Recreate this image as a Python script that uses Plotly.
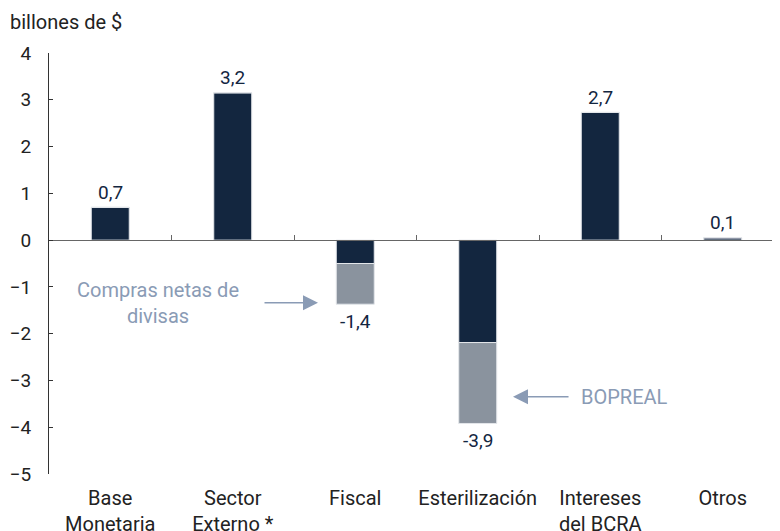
import plotly.graph_objects as go

categories = ["Base<br>Monetaria", "Sector<br>Externo *", "Fiscal", "Esterilización", "Intereses<br>del BCRA", "Otros"]
main_values = [0.70, 3.15, -0.50, -2.19, 2.73, 0.05]
extra_values = [0, 0, -0.87, -1.73, 0, 0]
total_labels = ["0,7", "3,2", "-1,4", "-3,9", "2,7", "0,1"]
y_ticks = [-5, -4, -3, -2, -1, 0, 1, 2, 3, 4]

NAVY = "#13263F"
GREY = "#8A939E"
NOTE = "#8A9BB5"
FONT = "Roboto"
FS = 20

fig = go.Figure()
fig.add_trace(go.Bar(x=categories, y=main_values, marker=dict(color=NAVY, line=dict(color="#E3E6EA", width=1)),
                     width=0.31, hoverinfo="skip"))
fig.add_trace(go.Bar(x=categories, y=extra_values, marker=dict(color=GREY, line=dict(color="#E3E6EA", width=1)),
                     width=0.31, hoverinfo="skip"))

# total labels
for i, (c, lab) in enumerate(zip(categories, total_labels)):
    total = main_values[i] + extra_values[i]
    fig.add_annotation(x=c, y=total, text=lab, showarrow=False,
                       yshift=15 if total >= 0 else -17,
                       font=dict(family=FONT, size=19, color=NAVY))

# note annotations
fig.add_annotation(x=1.696, y=-1.34, ax=-55, ay=0, xref="x", yref="y", text="",
                   showarrow=True, arrowhead=2, arrowsize=2, arrowwidth=1.5, arrowcolor=NOTE)
fig.add_annotation(x=0.39, y=-1.34, text="Compras netas de<br>divisas", showarrow=False,
                   font=dict(family=FONT, size=FS, color=NOTE), align="center")
fig.add_annotation(x=3.288, y=-3.35, ax=57, ay=0, xref="x", yref="y", text="",
                   showarrow=True, arrowhead=2, arrowsize=2, arrowwidth=1.5, arrowcolor=NOTE)
fig.add_annotation(x=4.20, y=-3.35, text="BOPREAL", showarrow=False,
                   font=dict(family=FONT, size=FS, color=NOTE))

fig.add_annotation(x=0, y=1, xref="paper", yref="paper", xanchor="left", yanchor="bottom",
                   xshift=-41, yshift=17, text="billones de $", showarrow=False,
                   font=dict(family=FONT, size=FS, color="#222"))

# invisible trace for zero-line axis
fig.add_trace(go.Scatter(x=categories, y=[0]*len(categories), xaxis="x2", mode="markers",
                         marker=dict(opacity=0), hoverinfo="skip", showlegend=False))

fig.update_layout(
    width=780, height=531,
    barmode="relative",
    showlegend=False,
    plot_bgcolor="white", paper_bgcolor="white",
    margin=dict(l=41, r=4, t=45, b=65),
    font=dict(family=FONT, size=FS, color="#222"),
    xaxis=dict(type="category", showline=False, ticks="", range=[-0.5, 5.5], automargin=False,
               tickfont=dict(family=FONT, size=FS, color="#222"), ticklabelstandoff=10),
    xaxis2=dict(type="category", overlaying="x", anchor="free", position=5/9, side="bottom",
                range=[-0.5, 5.5], showline=True, linecolor="#666", linewidth=1,
                tickson="boundaries", ticks="inside", ticklen=5, tickcolor="#666",
                showticklabels=False, showgrid=False),
    yaxis=dict(range=[-5, 4], tickvals=y_ticks, showgrid=False, zeroline=False, automargin=False,
               showline=True, linecolor="#333", linewidth=1, ticks="inside", ticklen=4,
               tickcolor="#333", ticklabelstandoff=13,
               tickfont=dict(family=FONT, size=19, color="#222")),
)

fig.write_html("out.html")
